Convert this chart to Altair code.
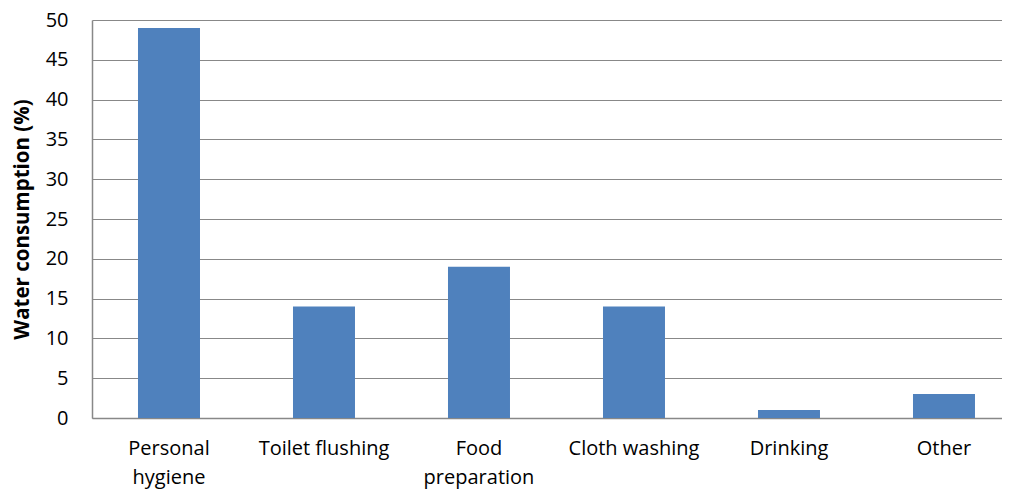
import altair as alt
import pandas as pd

categories = ["Personal hygiene", "Toilet flushing", "Food preparation",
              "Cloth washing", "Drinking", "Other"]
values = [49, 14, 19, 14, 1, 3]
y_ticks = [0, 5, 10, 15, 20, 25, 30, 35, 40, 45, 50]

df = pd.DataFrame({"category": categories, "value": values})

FONT = "Open Sans"
GRAY = "#888888"

label_expr = ("datum.label == 'Personal hygiene' ? ['Personal', 'hygiene'] : "
              "datum.label == 'Food preparation' ? ['Food', 'preparation'] : datum.label")

chart = alt.Chart(df).mark_bar(color="#4F81BD").encode(
    x=alt.X("category:N", sort=categories,
            scale=alt.Scale(paddingInner=0.6, paddingOuter=0.2355, align=0.63),
            axis=alt.Axis(title=None, labelAngle=0, labelFont=FONT, labelFontSize=20,
                          labelColor="#000000", labelPadding=20, labelLineHeight=29,
                          labelBaseline="top", ticks=False, domainColor=GRAY,
                          domainWidth=1.5, labelExpr=label_expr)),
    y=alt.Y("value:Q", scale=alt.Scale(domain=[0, 50], nice=False),
            axis=alt.Axis(title="Water consumption (%)", values=y_ticks,
                          labelFont=FONT, labelFontSize=20, labelColor="#000000",
                          labelPadding=24, ticks=False, domainColor=GRAY,
                          domainWidth=1.5, gridColor=GRAY, gridWidth=1,
                          titleFont=FONT, titleFontSize=20.5, titleFontWeight="bold",
                          titleColor="#000000", titleAngle=270, titleAlign="center",
                          titleBaseline="middle", titleX=-70, titleY=199)),
).properties(
    width=910, height=398,
    autosize=alt.AutoSizeParams(type="none"),
    padding={"left": 84, "top": 12, "right": 0, "bottom": 74},
).configure_view(stroke=None)

chart.save("out.html", embed_options={"renderer": "svg", "actions": False})
